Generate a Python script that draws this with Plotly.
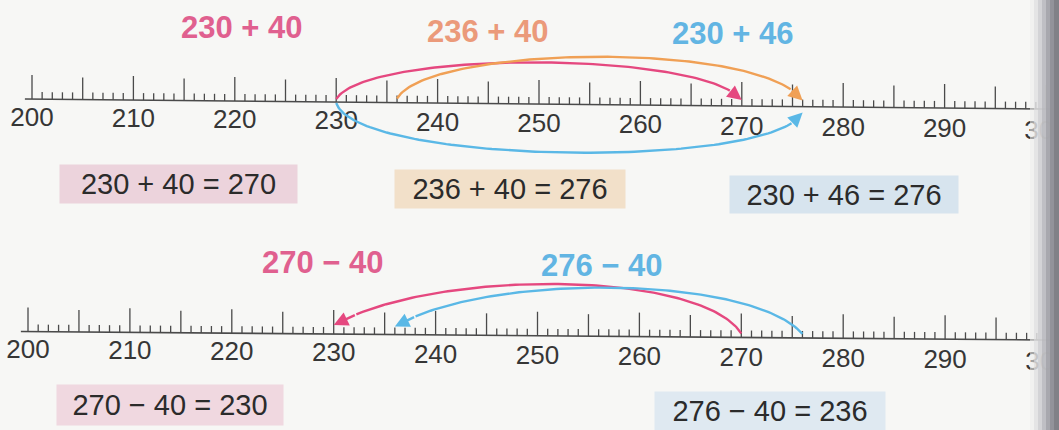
import numpy as np
import plotly.graph_objects as go

# ---------------- data ----------------
tick_values = list(range(200, 302))          # one small tick per unit
label_values = list(range(200, 301, 10))     # labelled ticks
tick_labels = [str(v) for v in label_values]

top_headings = ["230 + 40", "236 + 40", "230 + 46"]
top_starts = [230, 236, 230]
top_ends = [270, 276, 276]
top_equations = ["230 + 40 = 270", "236 + 40 = 276", "230 + 46 = 276"]

bottom_headings = ["270 − 40", "276 − 40"]
bottom_starts = [270, 276]
bottom_ends = [230, 236]
bottom_equations = ["270 − 40 = 230", "276 − 40 = 236"]

# ---------------- style ----------------
W, H = 1059, 430
PINK, ORANGE, BLUE = "#e5487f", "#f0a055", "#5ab8e6"
PINK_T, ORANGE_T, BLUE_T = "#e0608f", "#eb9a7a", "#62b5e3"
TICK_C = "#4a4a4a"
FONT = "Liberation Sans, Arial, sans-serif"


def base_top(v):
    return 99 + 0.10 * (v - 200)


def base_bot(v):
    return 331.5 + 0.085 * (v - 200)


def cubic(p0, p1, p2, p3, n=120):
    t = np.linspace(0, 1, n)[:, None]
    pts = ((1 - t) ** 3) * np.array(p0) + 3 * ((1 - t) ** 2) * t * np.array(p1) \
        + 3 * (1 - t) * t ** 2 * np.array(p2) + t ** 3 * np.array(p3)
    return pts[:, 0], pts[:, 1]


fig = go.Figure()


def number_line(xaxis, base):
    xs, ys = [], []
    for v in tick_values:
        b = base(v)
        if v % 10 == 0:
            h = 24
        elif v % 5 == 0:
            h = 22
        else:
            h = 7
        xs += [v, v, None]
        ys += [b, b - h, None]
    fig.add_trace(go.Scatter(x=xs, y=ys, mode="lines", xaxis=xaxis, yaxis="y",
                             line=dict(color=TICK_C, width=1.3), hoverinfo="skip",
                             showlegend=False))
    fig.add_trace(go.Scatter(x=[199.3, 302], y=[base(199.3), base(302)], mode="lines",
                             xaxis=xaxis, yaxis="y",
                             line=dict(color=TICK_C, width=1.6), hoverinfo="skip",
                             showlegend=False))
    fig.add_trace(go.Scatter(x=label_values,
                             y=[base(v) + 20 + 0.03 * (v - 200) for v in label_values],
                             text=tick_labels, mode="text", xaxis=xaxis, yaxis="y",
                             textfont=dict(family=FONT, size=26, color="#363636"),
                             hoverinfo="skip", showlegend=False))


number_line("x", base_top)
number_line("x2", base_bot)


def arc(xaxis, p0, p1, p2, p3, color):
    x, y = cubic(p0, p1, p2, p3)
    k = int(len(x) * 0.93)
    fig.add_trace(go.Scatter(x=x[:k + 1], y=y[:k + 1], mode="lines", xaxis=xaxis, yaxis="y",
                             line=dict(color=color, width=2.4), hoverinfo="skip",
                             showlegend=False))
    fig.add_annotation(x=x[-1], y=y[-1], ax=x[k], ay=y[k],
                       xref=xaxis, yref="y", axref=xaxis, ayref="y",
                       text="", showarrow=True, arrowhead=2, arrowsize=1.2,
                       arrowwidth=2.4, arrowcolor=color, standoff=0)


# top arcs
s, e = top_starts[0], top_ends[0]
arc("x", (s, base_top(s) - 3), (s + 3, 50), (e - 4, 50), (e, base_top(e) - 6), PINK)
s, e = top_starts[1], top_ends[1]
arc("x", (s, base_top(s) - 4), (s + 3, 45), (e - 4, 40), (e, base_top(e) - 6), ORANGE)
s, e = top_starts[2], top_ends[2]
arc("x", (s, base_top(s) + 1), (s + 2, 165), (e - 3, 170), (e, base_top(e) + 6), BLUE)

# bottom arcs
s, e = bottom_starts[0], bottom_ends[0]
arc("x2", (s, base_bot(s) - 4), (s - 4, 270), (e + 10, 268), (e, base_bot(e) - 9), PINK)
s, e = bottom_starts[1], bottom_ends[1]
arc("x2", (s, base_bot(s) - 4), (s - 5, 275), (e + 9, 272), (e, base_bot(e) - 8), BLUE)

# headings
for txt, (px, py), col in zip(top_headings + bottom_headings,
                              [(242, 27), (488, 31), (733, 33), (323, 262), (602, 265)],
                              [PINK_T, ORANGE_T, BLUE_T, PINK_T, BLUE_T]):
    fig.add_annotation(x=px / W, y=py, xref="paper", yref="y", text="<b>" + txt + "</b>",
                       showarrow=False,
                       font=dict(family=FONT, size=31, color=col), xanchor="center",
                       yanchor="middle")

# equation boxes
boxes = [((178, 184), 237, 38, "#ecd3dc"), ((510, 189), 230, 38, "#f2e0c9"),
         ((844, 194), 228, 37, "#d7e4ee"), ((170, 405), 226, 40, "#f0d8e0"),
         ((770, 411), 230, 38, "#dfe9f1")]
for txt, ((px, py), bw, bh, bg) in zip(top_equations + bottom_equations, boxes):
    fig.add_annotation(x=px / W, y=py, xref="paper", yref="y", text=txt, showarrow=False,
                       font=dict(family=FONT, size=29, color="#2b2b2b"), xanchor="center",
                       yanchor="middle", width=bw, height=bh, bgcolor=bg, borderpad=0,
                       align="center", valign="middle")

# page-fold shadow at right edge
shades = ["#ececec", "#dcdcde", "#c8c8cc", "#b2b2b7", "#9a9aa0", "#85858c", "#74747b"]
for i, c in enumerate(shades):
    x0 = 1030 + i * 4
    fig.add_shape(type="rect", xref="paper", yref="paper", x0=x0 / W, x1=(x0 + 4 + 30) / W,
                  y0=0, y1=1, fillcolor=c, line_width=0, opacity=0.6, layer="above")

fig.update_layout(
    width=W, height=H, margin=dict(l=0, r=0, t=0, b=0),
    paper_bgcolor="#f7f7f5", plot_bgcolor="#f7f7f5",
    xaxis=dict(range=[200 - 32 / 10.14, 200 + 1027 / 10.14], visible=False, fixedrange=True),
    xaxis2=dict(range=[200 - 28 / 10.19, 200 + 1031 / 10.19], visible=False,
                overlaying="x", fixedrange=True),
    yaxis=dict(range=[H, 0], visible=False, fixedrange=True),
    showlegend=False,
)

fig.write_html("out.html", config={"displayModeBar": False},
               post_script="document.body.style.margin='0';document.body.style.overflow='hidden';")
